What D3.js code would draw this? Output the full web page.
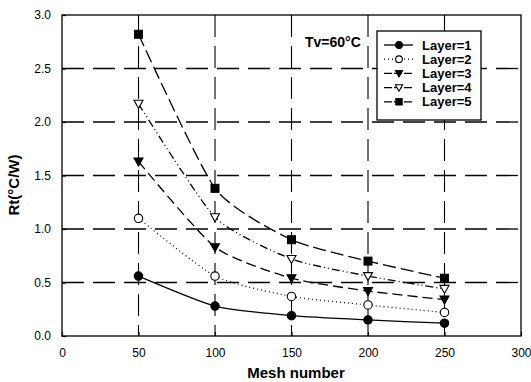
<!DOCTYPE html>
<html>
<head>
<meta charset="utf-8">
<script src="https://cdn.jsdelivr.net/npm/d3@7"></script>
<style>
  body { margin: 0; background: #fff; }
  text { font-family: "Liberation Sans", Arial, sans-serif; fill: #000; }
</style>
</head>
<body>
<svg id="chart" width="531" height="382"></svg>
<script>
// mesh numbers on the x axis
var meshes = [50, 100, 150, 200, 250];

// thermal resistance per layer count
var layer1 = [0.56, 0.28, 0.19, 0.15, 0.12];
var layer2 = [1.10, 0.56, 0.37, 0.29, 0.22];
var layer3 = [1.63, 0.83, 0.54, 0.42, 0.34];
var layer4 = [2.17, 1.11, 0.72, 0.56, 0.44];
var layer5 = [2.82, 1.38, 0.90, 0.70, 0.54];

var seriesNames = ["Layer=1", "Layer=2", "Layer=3", "Layer=4", "Layer=5"];
var xTicks = [0, 50, 100, 150, 200, 250, 300];
var yTicks = [0, 0.5, 1.0, 1.5, 2.0, 2.5, 3.0];

var series = [
  { name: seriesNames[0], values: layer1, symbol: "circle", filled: true,  dash: null },
  { name: seriesNames[1], values: layer2, symbol: "circle", filled: false, dash: "1,3" },
  { name: seriesNames[2], values: layer3, symbol: "triDown", filled: true,  dash: "10,5" },
  { name: seriesNames[3], values: layer4, symbol: "triDown", filled: false, dash: "8,3,1,3,1,3" },
  { name: seriesNames[4], values: layer5, symbol: "square", filled: true,  dash: "13,5" }
];

var svg = d3.select("#chart");
// plot box (window.top is reserved, so use own names)
var plotL = 62, plotR = 521, plotT = 15, plotB = 336;

var x = d3.scaleLinear().domain([0, 300]).range([plotL, plotR]);
var y = d3.scaleLinear().domain([0, 3]).range([plotB, plotT]);

// dashed grid
svg.append("g").selectAll("line")
  .data(yTicks.slice(1, -1))
  .enter().append("line")
  .attr("x1", plotL).attr("x2", plotR)
  .attr("y1", d => y(d)).attr("y2", d => y(d))
  .attr("stroke", "#000").attr("stroke-width", 1.3)
  .attr("stroke-dasharray", "22,9");

svg.append("g").selectAll("line")
  .data(xTicks.slice(1, -1))
  .enter().append("line")
  .attr("y1", plotT).attr("y2", plotB)
  .attr("x1", d => x(d)).attr("x2", d => x(d))
  .attr("stroke", "#000").attr("stroke-width", 1.1)
  .attr("stroke-dasharray", "22,9");

// frame
svg.append("rect")
  .attr("x", plotL).attr("y", plotT)
  .attr("width", plotR - plotL).attr("height", plotB - plotT)
  .attr("fill", "none").attr("stroke", "#000").attr("stroke-width", 1.3);

// axes
var xAxis = svg.append("g")
  .attr("transform", "translate(0," + plotB + ")")
  .call(d3.axisBottom(x).tickValues(xTicks).tickSizeInner(-4).tickSizeOuter(0).tickPadding(12).tickFormat(d3.format("d")));
var yAxis = svg.append("g")
  .attr("transform", "translate(" + plotL + ",0)")
  .call(d3.axisLeft(y).tickValues(yTicks).tickSizeInner(-4).tickSizeOuter(0).tickPadding(11).tickFormat(d3.format(".1f")));

[xAxis, yAxis].forEach(function(a) {
  a.select(".domain").remove();
  a.selectAll("line").attr("stroke", "#000").attr("stroke-width", 1.2);
  a.selectAll("text").style("font-size", "12px").style("font-family", "Liberation Sans, Arial, sans-serif");
});

// axis titles
svg.append("text")
  .attr("x", 296).attr("y", 378)
  .attr("text-anchor", "middle")
  .style("font-size", "15px").style("font-weight", "bold")
  .text("Mesh number");

svg.append("text")
  .attr("transform", "translate(19,185) rotate(-90)")
  .attr("text-anchor", "middle")
  .style("font-size", "15px").style("font-weight", "bold")
  .text("Rt(°C/W)");

svg.append("text")
  .attr("x", 305).attr("y", 47)
  .style("font-size", "14px").style("font-weight", "bold")
  .text("Tv=60°C");

var line = d3.line()
  .x((d, i) => x(meshes[i]))
  .y(d => y(d))
  .curve(d3.curveCardinal.tension(0.4));

function drawSymbol(g, s, cx, cy, k) {
  var fill = s.filled ? "#000" : "#fff";
  if (s.symbol === "circle") {
    g.append("circle").attr("cx", cx).attr("cy", cy).attr("r", 4.2 * k)
      .attr("fill", fill).attr("stroke", "#000").attr("stroke-width", 1.1);
  } else if (s.symbol === "square") {
    g.append("rect").attr("x", cx - 4 * k).attr("y", cy - 4 * k).attr("width", 8 * k).attr("height", 8 * k)
      .attr("fill", fill).attr("stroke", "#000").attr("stroke-width", 1);
  } else {
    g.append("path")
      .attr("d", "M" + (cx - 4.5 * k) + "," + (cy - 3.5 * k) + "L" + (cx + 4.5 * k) + "," + (cy - 3.5 * k) + "L" + cx + "," + (cy + 4.5 * k) + "Z")
      .attr("fill", fill).attr("stroke", "#000").attr("stroke-width", 1.1);
  }
}

var plot = svg.append("g");
series.forEach(function(s) {
  plot.append("path")
    .attr("d", line(s.values))
    .attr("fill", "none").attr("stroke", "#000")
    .attr("stroke-width", s.dash === "1,3" ? 1.2 : 1.3)
    .attr("stroke-dasharray", s.dash);
  s.values.forEach(function(v, i) {
    drawSymbol(plot, s, x(meshes[i]), y(v), 1);
  });
});

// legend
var lg = svg.append("g");
lg.append("rect")
  .attr("x", 377).attr("y", 31).attr("width", 104).attr("height", 89)
  .attr("fill", "#fff").attr("stroke", "#000").attr("stroke-width", 1.3);

series.forEach(function(s, i) {
  var ly = 45 + i * 14.2;
  lg.append("line")
    .attr("x1", 384).attr("x2", 413).attr("y1", ly).attr("y2", ly)
    .attr("stroke", "#000").attr("stroke-width", 1.3)
    .attr("stroke-dasharray", s.dash ? (s.dash === "1,3" ? "1,3" : "8,2") : null);
  drawSymbol(lg, s, 399, ly, 0.8);
  lg.append("text")
    .attr("x", 422).attr("y", ly + 4.5)
    .style("font-size", "13px").style("font-weight", "bold")
    .text(s.name);
});
</script>
</body>
</html>
